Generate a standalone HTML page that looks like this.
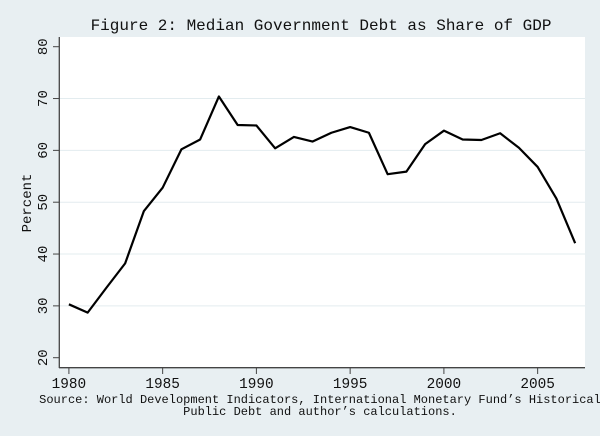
<!DOCTYPE html>
<html><head><meta charset="utf-8"><style>
body{margin:0;background:#e8eff2;}
svg{display:block;font-family:"Liberation Mono",monospace;}
</style></head><body>
<svg width="600" height="436" viewBox="0 0 600 436">
<rect x="0" y="0" width="600" height="436" fill="#e8eff2"/>
<rect x="59" y="37" width="526" height="331" fill="#ffffff"/>
<text x="321" y="30" font-size="16" text-anchor="middle" fill="#111">Figure 2: Median Government Debt as Share of GDP</text>
<g id="grid"></g><g id="axes"></g>
<polyline id="line" fill="none" stroke="#000" stroke-width="2.2" stroke-linejoin="round"/>
<text transform="translate(31,203) rotate(-90)" font-size="14" text-anchor="middle" fill="#111">Percent</text>
<text x="320" y="403" font-size="12" text-anchor="middle" fill="#111">Source: World Development Indicators, International Monetary Fund’s Historical</text>
<text x="320" y="415" font-size="12" text-anchor="middle" fill="#111">Public Debt and author’s calculations.</text>
</svg>
<script>
const years=[1980,1981,1982,1983,1984,1985,1986,1987,1988,1989,1990,1991,1992,1993,1994,1995,1996,1997,1998,1999,2000,2001,2002,2003,2004,2005,2006,2007];
const debt=[30.3,28.7,33.5,38.2,48.3,52.8,60.2,62.1,70.4,64.9,64.8,60.4,62.6,61.7,63.4,64.5,63.4,55.4,55.9,61.2,63.8,62.1,62.0,63.3,60.5,56.8,50.7,42.1];
const xTicks=[1980,1985,1990,1995,2000,2005];
const yTicks=[20,30,40,50,60,70,80];
const NS="http://www.w3.org/2000/svg";
const xs=y=>68.9+(y-1980)*18.75;
const ys=v=>357.7-(v-20)*(357.7-46.7)/60;
const grid=document.getElementById('grid'),axes=document.getElementById('axes');
function mk(tag,attrs,parent){const e=document.createElementNS(NS,tag);for(const k in attrs)e.setAttribute(k,attrs[k]);parent.appendChild(e);return e;}
yTicks.forEach(t=>{
  if(t>20&&t<80){const g=mk('line',{x1:59,x2:585,y1:ys(t),y2:ys(t),stroke:'#e3ecef','stroke-width':1},grid);
  
  }
  const tk=mk('line',{x1:53,x2:59,y1:ys(t),y2:ys(t),stroke:'#444','stroke-width':1},axes);
  
  
  const tx=mk('text',{transform:`translate(47,${ys(t)}) rotate(-90)`,'font-size':14,'text-anchor':'middle',fill:'#111'},axes);
  tx.textContent=t;
  
  
});
xTicks.forEach(t=>{
  const tk=mk('line',{x1:xs(t),x2:xs(t),y1:368,y2:374,stroke:'#444','stroke-width':1},axes);
  
  
  const tx=mk('text',{x:xs(t),y:388,'font-size':14.4,'text-anchor':'middle',fill:'#111'},axes);
  tx.textContent=t;
  
  
});
const ya=mk('line',{x1:59.3,x2:59.3,y1:37,y2:368,stroke:'#444','stroke-width':1.3},axes);


const xa=mk('line',{x1:59,x2:585,y1:367.7,y2:367.7,stroke:'#444','stroke-width':1.3},axes);


document.getElementById('line').setAttribute('points',years.map((y,i)=>xs(y)+','+ys(debt[i])).join(' '));
</script>
</body></html>
